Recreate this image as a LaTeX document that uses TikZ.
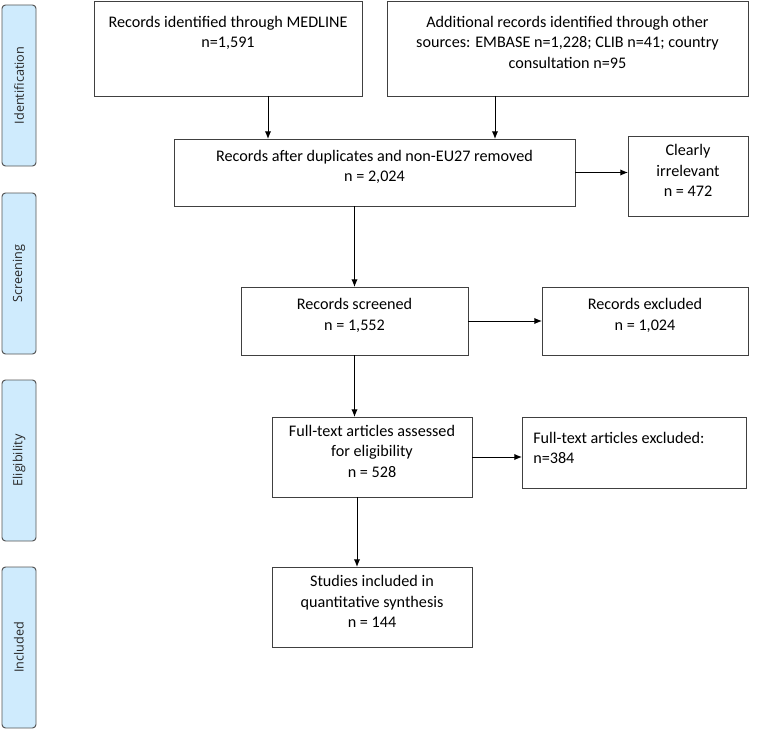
\documentclass[tikz,border=0pt]{standalone}
\usepackage{fontspec}
\setmainfont{Carlito}
\newfontfamily\stagefont{Open Sans}
\usetikzlibrary{
  calc,
  fit,
  arrows.meta
}
\definecolor{stagefill}{RGB}{207,235,253}
\definecolor{stageline}{RGB}{85,85,85}
\definecolor{boxline}{RGB}{64,64,64}
\tikzset{
  % Shared values that are used by several styles below.
  globals/line width/.initial=0.7pt,
%
  % For the flow boxes.
  box/.style={
    draw=boxline,
    line width=\pgfkeysvalueof{/tikz/globals/line width},
    inner sep=0pt,
    outer sep=0pt,
    align=center,
    font={\fontsize{11.5}{14.5}\selectfont}},
%
  % For the text of a box that is not centred in it.
  boxtext/.style={
    inner sep=0pt,
    font={\fontsize{11.5}{14.5}\selectfont}},
%
  % For the stages on the left.
  stage/.style={
    draw=stageline,
    fill=stagefill,
    line width=\pgfkeysvalueof{/tikz/globals/line width},
    rounded corners=2.5pt,
    inner sep=0pt,
    outer sep=0pt},
%
  % For the names of the stages.
  stage name/.style={
    rotate=90,
    font={\stagefont\fontsize{9}{11}\selectfont},
    text=black!85},
%
  % For the connectors.
  arrow/.style={
    line width=\pgfkeysvalueof{/tikz/globals/line width},
    -{Latex[length=5.5pt,width=4.5pt]}}
}

\begin{document}
\begin{tikzpicture}[x=0.025cm, y=-0.025cm]
  \useasboundingbox (0,0) rectangle (763,729);

  % Stages.
  \node[stage, fit={(2,5) (36,166)}] (ident) {};
  \node[stage name] (identname) at (ident) {Identification};
  \node[stage, fit={(2,193) (36,354)}] (screen) {};
  \node[stage name] (screenname) at (screen) {Screening};
  \node[stage, fit={(2,380) (36,541)}] (elig) {};
  \node[stage name] (eligname) at (elig) {Eligibility};
  \node[stage, fit={(2,567) (36,728)}] (incl) {};
  \node[stage name] (inclname) at (incl) {Included};

  % Boxes.
  \node[box, fit={(94,1) (362,96)}] (medline) {};
  \node[boxtext, anchor=north, align=center] (medlinetext)
    at ($(medline.north)+(0,15)$)
    {Records identified through MEDLINE\\n=1,591};
  \node[box, fit={(387,1) (748,96)}] (other) {};
  \node[boxtext, anchor=north, align=center] (othertext)
    at ($(other.north)+(0,15)$)
    {Additional records identified through other\\
     sources: EMBASE n=1,228; CLIB n=41; country\\
     consultation n=95};
  \node[box, fit={(174,139) (575,206)}] (dup)
    {Records after duplicates and non-EU27 removed\\n = 2,024};
  \node[box, fit={(628,136) (748,216)}] (irrel)
    {Clearly\\irrelevant\\n = 472};
  \node[box, fit={(241,287) (468,355)}] (screened)
    {Records screened\\n = 1,552};
  \node[box, fit={(542,287) (748,355)}] (excluded)
    {Records excluded\\n = 1,024};
  \node[box, fit={(272,417) (472,497)}] (fulltext)
    {Full-text articles assessed\\for eligibility\\n = 528};
  \node[box, fit={(522,417) (746,488)}] (ftexcl) {};
  \node[boxtext, anchor=north west, align=left] (ftexcltext)
    at ($(ftexcl.north west)+(11,15)$)
    {Full-text articles excluded:\\n=384};
  \node[box, fit={(272,567) (472,647)}] (studies)
    {Studies included in\\quantitative synthesis\\n = 144};

  % Connectors.
  \coordinate (medlinefoot) at ($(medline.south)+(40,0)$);
  \coordinate (otherfoot) at ($(other.south)+(-72.5,0)$);
  \coordinate (fulltextfoot) at ($(fulltext.south)+(-15,0)$);
  \draw[arrow] (medlinefoot) -- (medlinefoot |- dup.north);
  \draw[arrow] (otherfoot) -- (otherfoot |- dup.north);
  \draw[arrow] (dup.east) -- (dup.east -| irrel.west);
  \draw[arrow] (screened.north |- dup.south) -- (screened.north);
  \draw[arrow] (screened.east) -- (excluded.west);
  \draw[arrow] (screened.south) -- (screened.south |- fulltext.north);
  \draw[arrow] (fulltext.east) -- (fulltext.east -| ftexcl.west);
  \draw[arrow] (fulltextfoot) -- (fulltextfoot |- studies.north);
\end{tikzpicture}
\end{document}
